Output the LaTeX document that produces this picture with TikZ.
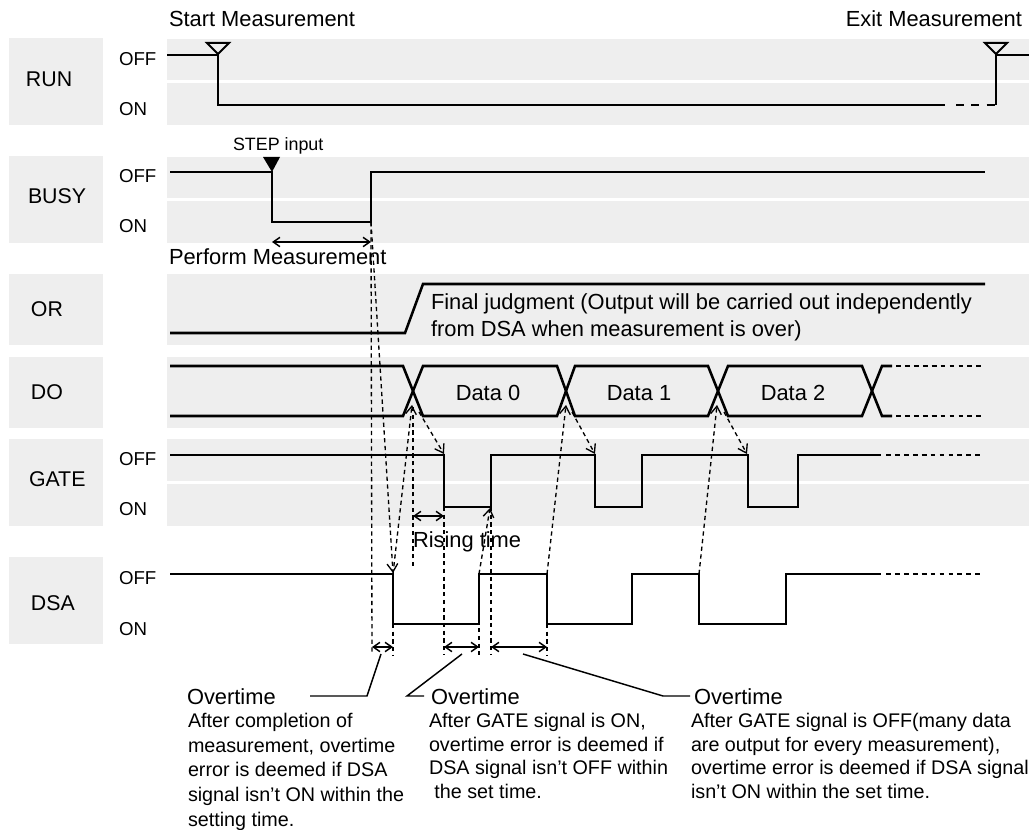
\documentclass[tikz,border=0pt]{standalone}
\usepackage{fontspec}
\setmainfont{Liberation Sans}
\usetikzlibrary{arrows.meta}
\definecolor{cband}{HTML}{EEEEEE}
\tikzset{
  every picture/.style={x=.75pt, y=-.75pt, line width=1.5pt},
  every node/.style={inner sep=0pt, anchor=base west},
  band/.style={fill=cband, draw=none},
  trace/.style={line width=1.9pt, line join=miter},
  cont/.style={line width=1.9pt, dash pattern=on 3.6pt off 3.1pt},
  guide/.style={line width=1pt, dash pattern=on 3.2pt off 2.6pt},
  guidetip/.style={guide, -{Straight Barb[length=6pt, width=8pt]}},
  timespan/.style={line width=1.1pt, {Straight Barb[length=5pt, width=7pt]}-{Straight Barb[length=5pt, width=7pt]}},
  leader/.style={line width=1.1pt},
  signal/.style={font=\fontsize{16}{18}\selectfont},
  level/.style={font=\fontsize{14}{17}\selectfont},
  label/.style={font=\fontsize{16.4}{19}\selectfont},
  small/.style={font=\fontsize{13.4}{16}\selectfont},
  body/.style={font=\fontsize{14.8}{18.4}\selectfont, align=left},
  bodyb/.style={font=\fontsize{14.8}{17.6}\selectfont, align=left},
}
\begin{document}
\begin{tikzpicture}
  \useasboundingbox (0,0) rectangle (1029,830);
  % grey bands
  \foreach \ya/\yb in {38/125,156/243,274/345,357/428,439/526,557/644}
    \fill[band] (9,\ya) rectangle (103,\yb);
  \foreach \ya/\yb in {39/80,83/125,157/198,201/243,274/345,357/428,439/481,484/526}
    \fill[band] (167,\ya) rectangle (1029,\yb);
  % signal names
  \node[signal] (run) at (25,87) {RUN};
  \node[signal] (busy) at (27,204) {BUSY};
  \node[signal] (or) at (30,317) {OR};
  \node[signal] (do) at (30,400) {DO};
  \node[signal] (gate) at (28,487) {GATE};
  \node[signal] (dsa) at (30,610) {DSA};
  % OFF / ON levels
  \foreach \s/\yoff/\yon in {run/66/116,busy/183/233,gate/466/516,dsa/585/635} {
    \node[level] (\s off) at (118,\yoff) {OFF};
    \node[level] (\s on) at (118,\yon) {ON};
  }
  % RUN
  \draw[trace] (167,55) -- (218,55) -- (218,105) -- (945,105);
  \draw[cont, dash pattern=on 6pt off 5.5pt] (956,105) -- (996,105);
  \draw[trace] (996,105) -- (996,55) -- (1029,55);
  \draw[line width=1.5pt] (207,43) -- (229,43) -- (218,54) -- cycle;
  \draw[line width=1.5pt] (985,43) -- (1007,43) -- (996,54) -- cycle;
  \node[label] (start) at (168,27) {Start Measurement};
  \node[label, anchor=base east] (exit) at (1023,27) {Exit Measurement};
  % BUSY
  \draw[trace] (170,172) -- (272,172) -- (272,222) -- (371,222) -- (371,172) -- (985,172);
  \fill (263,157) -- (280,157) -- (272,172) -- cycle;
  \node[small] (stepin) at (232,151) {STEP input};
  \node[label] (perform) at (168,265) {Perform Measurement};
  % OR
  \draw[trace] (170,333) -- (405,333) -- (423,284) -- (985,284);
  \node[label] (final) at (430,310) {Final judgment (Output will be carried out independently};
  \node[label] (final2) at (430,337) {from DSA when measurement is over)};
  % DO
  \draw[trace] (170,366) -- (403,366) -- (423,416) -- (557,416) -- (575,366) -- (708,366) -- (728,416) -- (862,416) -- (882,366) -- (892,366);
  \draw[trace] (170,416) -- (403,416) -- (423,366) -- (557,366) -- (575,416) -- (708,416) -- (728,366) -- (862,366) -- (882,416) -- (892,416);
  \draw[cont] (896,366) -- (983,366);
  \draw[cont] (896,416) -- (983,416);
  \node[label, anchor=base] (data0) at (488,401) {Data 0};
  \node[label, anchor=base] (data1) at (639,401) {Data 1};
  \node[label, anchor=base] (data2) at (793,401) {Data 2};
  % GATE
  \draw[trace] (170,455) -- (444,455) -- (444,507) -- (491,507) -- (491,455) -- (595,455) -- (595,507) -- (642,507) -- (642,455) -- (748,455) -- (748,507) -- (798,507) -- (798,455) -- (881,455);
  \draw[cont] (886,455) -- (983,455);
  \node[label] (rising) at (412,548) {Rising time};
  % DSA
  \draw[trace] (170,574) -- (393,574) -- (393,624) -- (479,624) -- (479,574) -- (547,574) -- (547,624) -- (632,624) -- (632,574) -- (699,574) -- (699,624) -- (786,624) -- (786,574) -- (881,574);
  \draw[cont] (886,574) -- (983,574);
  % dashed guides
  \coordinate (busyup) at (371,222);
  \draw[guide] (busyup) -- (372,655);
  \draw[guidetip] (busyup) -- (393,573);
  \foreach \xa/\xb in {393/624,444/507,479/574,491/507,547/624}
    \draw[guide] (\xa,\xb) -- (\xa,655);
  \draw[guide] (413,566) -- (413,405);
  \draw[guidetip] (393,574) -- (412,405);
  \draw[guidetip] (547,574) -- (566,405);
  \draw[guidetip] (699,574) -- (717,405);
  \draw[guidetip] (419,412) -- (444,454);
  \draw[guidetip] (572,412) -- (595,454);
  \draw[guidetip] (724,412) -- (747,454);
  \draw[guidetip] (479,574) -- (490,508);
  % time spans
  \draw[timespan] (272,242) -- (371,242);
  \draw[timespan] (413,516) -- (444,516);
  \draw[timespan] (372,647) -- (393,647);
  \draw[timespan] (444,647) -- (479,647);
  \draw[timespan] (491,647) -- (547,647);
  % overtime notes
  \node[label] (over1) at (186,704) {Overtime};
  \node[label] (over2) at (430,704) {Overtime};
  \node[label] (over3) at (693,704) {Overtime};
  \coordinate (spana) at (381,654);
  \coordinate (spanb) at (462,654);
  \coordinate (spanc) at (523,654);
  \draw[leader] (310,696) -- (367,696) -- (spana);
  \draw[leader] (424,696) -- (407,696) -- (spanb);
  \draw[leader] (spanc) -- (663,696) -- (690,696);
  \node[body] (note1) at (187,826) {After completion of\\measurement, overtime\\error is deemed if DSA\\signal isn't ON within the\\setting time.};
  \node[bodyb] (note2) at (428,798) {After GATE signal is ON,\\overtime error is deemed if\\DSA signal isn't OFF within\\\ the set time.};
  \node[bodyb] (note3) at (690,798) {After GATE signal is OFF(many data\\are output for every measurement),\\overtime error is deemed if DSA signal\\isn't ON within the set time.};
\end{tikzpicture}
\end{document}
